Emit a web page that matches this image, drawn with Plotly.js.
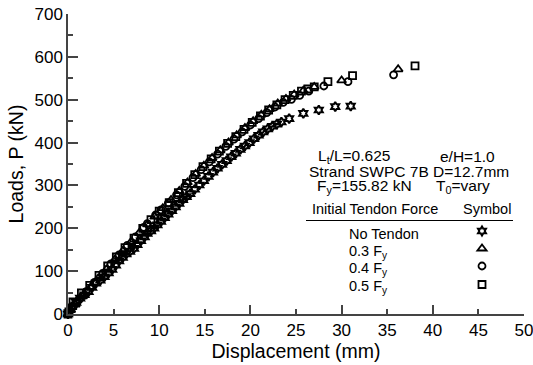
<!DOCTYPE html>
<html>
<head>
<meta charset="utf-8">
<script src="https://cdn.plot.ly/plotly-3.0.1.min.js"></script>
<style>html,body{margin:0;padding:0;background:#fff;}#chart{width:533px;height:365px;}</style>
</head>
<body>
<div id="chart"></div>
<div id="err" style="position:absolute;left:80px;top:20px;font:10px monospace;color:red;"></div>
<script>
window.onerror = function(m){ document.getElementById('err').textContent += ' ' + m; };
// ---- data ----
const noTendonX = [0,0.1,0.4,0.9,1.33,1.8,2.25,2.65,3.07,3.55,4.0,4.45,4.85,5.25,5.6,6.0,6.4,6.8,7.24,7.6,8.0,8.4,8.7,9.1,9.45,9.8,10.2,10.6,11.0,11.4,11.8,12.2,12.6,13.0,13.4,13.9,14.4,14.9,15.4,15.9,16.4,16.9,17.4,17.9,18.4,18.9,19.4,19.9,20.4,20.9,21.4,21.9,22.4,22.9,23.4,24.25,25.8,27.5,29.3,31.0];
const noTendonY = [0,3,17,27,37,45,52,62,72,79,87,96,104,114,124,132,140,146,153,162,171,180,188,194,200,208,216,225,233,241,250,258,267,274,281,291,301,311,321,331,340,349,358,367,375,384,392,400,409,417,425,432,438,443,448,456,468,476,484,485];

const f03X = [0,0.3,0.8,1.6,2.5,3.3,4.2,5.1,6.0,6.9,7.8,8.7,9.5,10.4,11.3,12.2,13.1,14.0,14.9,15.8,16.7,17.6,18.5,19.4,20.3,21.2,22.1,23.0,23.9,24.8,25.8,27.0,30.0,36.2];
const f03Y = [0,9,22,41,63,83,104,126,147,168,189,209,227,247,266,287,307,327,346,364,382,400,417,434,450,465,478,491,502,512,521,530,545,571];

const f04X = [0,0.2,0.6,1.2,2.0,2.9,3.8,4.7,5.6,6.5,7.4,8.3,8.7,9.6,10.2,11.0,11.9,12.8,13.7,14.6,15.5,16.4,17.3,18.2,19.1,20.0,20.9,21.8,22.7,23.6,24.5,25.4,26.4,28.05,30.7,35.7];
const f04Y = [0,8,18,33,52,74,95,117,138,160,180,202,211,231,243,259,278,298,318,337,355,373,391,408,425,441,456,470,483,494,501,510,520,532,542,558];

const f05X = [0,0.1,0.55,1.47,2.38,3.4,4.35,5.3,6.25,7.24,8.2,9.1,10.0,11.1,12.1,13.0,13.9,14.8,15.7,16.6,17.5,18.4,19.3,20.2,21.1,22.0,22.9,23.8,24.7,25.6,26.3,27.0,28.5,31.2,38.05];
const f05Y = [0,5,28,49,67,90,112,133,155,177,200,220,240,260,283,305,325,344,362,380,398,414,431,447,462,476,488,500,510,520,525,530,542,556,579];

const seriesNames = ['No Tendon', '0.3 F<sub>y</sub>', '0.4 F<sub>y</sub>', '0.5 F<sub>y</sub>'];
const xTickVals = [0,5,10,15,20,25,30,35,40,45,50];
const yTickVals = [0,100,200,300,400,500,600,700];

// ---- geometry helpers (pixel -> paper) ----
const L = 68, R = 9, T = 14, B = 51;
const W = 533 - L - R, H = 365 - T - B;
const px = x => (x - L) / W;
const py = y => (365 - B - y) / H;

const FONT = 'Arial, "Liberation Sans", Helvetica, sans-serif';

function mk(sym, size, lw) {
  return {symbol: sym, size: size, color: '#000', line: {color: '#000', width: lw}};
}

const traces = [
  {type: 'scatter', x: noTendonX, y: noTendonY, mode: 'markers', name: ' ', legend: 'legend', marker: mk('hexagram-open', 7, 2), cliponaxis: false},
  {type: 'scatter', x: f03X, y: f03Y, mode: 'markers', name: ' ', legend: 'legend2', marker: mk('triangle-up-open', 8, 1.8), cliponaxis: false},
  {type: 'scatter', x: f04X, y: f04Y, mode: 'markers', name: ' ', legend: 'legend3', marker: mk('circle-open', 7, 1.8), cliponaxis: false},
  {type: 'scatter', x: f05X, y: f05Y, mode: 'markers', name: ' ', legend: 'legend4', marker: mk('square-open', 7, 1.8), cliponaxis: false},
  {type: 'scatter', x: [null], y: [null], xaxis: 'x2', yaxis: 'y', mode: 'markers', showlegend: false, hoverinfo: 'skip'}
];

const txt = (text, xp, yp, size) => ({
  text: text, xref: 'paper', yref: 'paper', x: px(xp), y: py(yp),
  xanchor: 'left', yanchor: 'middle', showarrow: false,
  font: {family: FONT, size: size || 14.5, color: '#000'}
});

const annotations = [
  txt('L<sub>t</sub>/L=0.625', 316, 156.5, 15.5),
  txt('e/H=1.0', 438, 156.5, 15.5),
  txt('Strand SWPC 7B D=12.7mm', 307, 171, 15.5),
  txt('F<sub>y</sub>=155.82 kN', 315, 186.5, 15.5),
  txt('T<sub>0</sub>=vary', 434, 186.5, 15.5),
  txt('Initial Tendon Force', 310, 209.5),
  txt('Symbol', 461, 209.5),
  txt(seriesNames[0], 347, 233.5),
  txt(seriesNames[1], 347, 251.5),
  txt(seriesNames[2], 347, 269),
  txt(seriesNames[3], 347, 287)
];

const leg = yc => ({x: px(462), y: py(yc), xanchor: 'left', yanchor: 'middle', bgcolor: 'rgba(0,0,0,0)',
                    font: {size: 8, family: FONT}, borderwidth: 0});

const layout = {
  width: 533, height: 365,
  margin: {l: L, r: R, t: T, b: B},
  paper_bgcolor: '#fff', plot_bgcolor: '#fff',
  font: {family: FONT, color: '#000'},
  showlegend: true,
  legend: leg(231),
  legend2: leg(248.5),
  legend3: leg(266),
  legend4: leg(284.5),
  xaxis: {
    range: [0, 50], tickvals: xTickVals, ticks: 'inside', ticklen: 5, tickwidth: 1.5, tickcolor: '#444',
    showline: true, linecolor: '#444', linewidth: 1.5, showgrid: false, zeroline: false,
    tickfont: {size: 17, family: FONT}, ticklabeloverflow: 'allow',
    title: {text: 'Displacement (mm)', font: {size: 19.5, family: FONT}, standoff: 4}
  },
  xaxis2: {
    range: [0, 50], tickvals: [0,10,20,30,40,50], ticks: 'inside', ticklen: 9, tickwidth: 1.5, tickcolor: '#444',
    showline: false, showgrid: false, zeroline: false, showticklabels: false,
    overlaying: 'x', anchor: 'y', side: 'bottom'
  },
  yaxis: {
    range: [0, 700], tickvals: yTickVals, ticks: 'inside', ticklen: 10, tickwidth: 1.5, tickcolor: '#444',
    minor: {dtick: 50, tick0: 0, ticks: 'inside', ticklen: 5, tickwidth: 1.5, tickcolor: '#444'},
    showline: true, linecolor: '#444', linewidth: 1.5, showgrid: false, zeroline: false,
    tickfont: {size: 17, family: FONT},
    title: {text: 'Loads, P (kN)', font: {size: 19.5, family: FONT}, standoff: 6}
  },
  shapes: [
    {type: 'line', xref: 'paper', yref: 'paper', x0: px(306), x1: px(513), y0: py(220.5), y1: py(220.5),
     line: {color: '#000', width: 1}}
  ],
  annotations: annotations
};

Plotly.newPlot('chart', traces, layout, {displayModeBar: false}).catch(function(e){
  document.getElementById('err').textContent += ' ' + e;
});
</script>
</body>
</html>
